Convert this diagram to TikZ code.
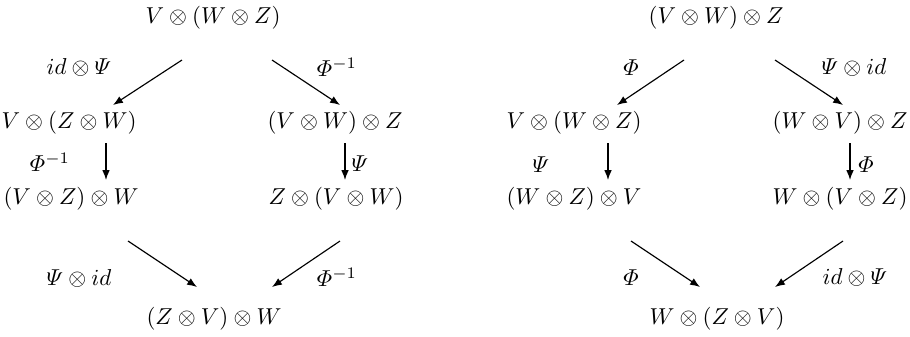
\documentclass[tikz,border=0pt]{standalone}
\usepackage{amsmath}
\usetikzlibrary{arrows.meta,calc}
\begin{document}
\begin{tikzpicture}[x=0.4348pt,y=-0.4348pt,
  obj/.style={inner sep=0pt,anchor=center},
  lab/.style={inner sep=0pt,anchor=center},
  arr/.style={line width=0.5pt,-{Latex[length=4.3pt,width=3.3pt]}}]
\useasboundingbox (0,0) rectangle (910,336);
% left diagram
\node[obj] (L1) at (213,18) {$V\otimes(W\otimes Z)$};
\node[obj] (L2) at (69,123) {$V\otimes(Z\otimes W)$};
\node[obj] (L3) at (335,123) {$(V\otimes W)\otimes Z$};
\node[obj] (L4) at (71,199) {$(V\otimes Z)\otimes W$};
\node[obj] (L5) at (336,199) {$Z\otimes(V\otimes W)$};
\node[obj] (L6) at (214,319) {$(Z\otimes V)\otimes W$};
\draw[arr] ($(L1)+(-31,42)$) -- ($(L2)+(44,-18)$);
\draw[arr] ($(L1)+(59,42)$) -- ($(L3)+(5,-18)$);
\draw[arr] ($(L2)+(37,20)$) -- ($(L4)+(35,-19)$);
\draw[arr] ($(L3)+(10,20)$) -- ($(L5)+(9,-19)$);
\draw[arr] ($(L4)+(57,42)$) -- ($(L6)+(-17,-32)$);
\draw[arr] ($(L5)+(4,42)$) -- ($(L6)+(58,-32)$);
\node[lab] (la1) at (79,67) {$id\otimes\varPsi$};
\node[lab] (la2) at (337,67) {$\varPhi^{-1}$};
\node[lab] (la3) at (50,162) {$\varPhi^{-1}$};
\node[lab] (la4) at (360,164) {$\varPsi$};
\node[lab] (la5) at (79,278) {$\varPsi\otimes id$};
\node[lab] (la6) at (337,277) {$\varPhi^{-1}$};
% right diagram
\node[obj] (R1) at (716,18) {$(V\otimes W)\otimes Z$};
\node[obj] (R2) at (574,123) {$V\otimes(W\otimes Z)$};
\node[obj] (R3) at (840,123) {$(W\otimes V)\otimes Z$};
\node[obj] (R4) at (574,199) {$(W\otimes Z)\otimes V$};
\node[obj] (R5) at (840,199) {$W\otimes(V\otimes Z)$};
\node[obj] (R6) at (717,319) {$W\otimes(Z\otimes V)$};
\draw[arr] ($(R1)+(-32,42)$) -- ($(R2)+(43,-18)$);
\draw[arr] ($(R1)+(59,42)$) -- ($(R3)+(3,-18)$);
\draw[arr] ($(R2)+(34,20)$) -- ($(R4)+(34,-19)$);
\draw[arr] ($(R3)+(10,20)$) -- ($(R5)+(10,-19)$);
\draw[arr] ($(R4)+(57,42)$) -- ($(R6)+(-17,-32)$);
\draw[arr] ($(R5)+(3,42)$) -- ($(R6)+(58,-32)$);
\node[lab] (ra1) at (631,68) {$\varPhi$};
\node[lab] (ra2) at (854,67) {$\varPsi\otimes id$};
\node[lab] (ra3) at (541,165) {$\varPsi$};
\node[lab] (ra4) at (866,165) {$\varPhi$};
\node[lab] (ra5) at (631,278) {$\varPhi$};
\node[lab] (ra6) at (855,277) {$id\otimes\varPsi$};
\end{tikzpicture}
\end{document}
